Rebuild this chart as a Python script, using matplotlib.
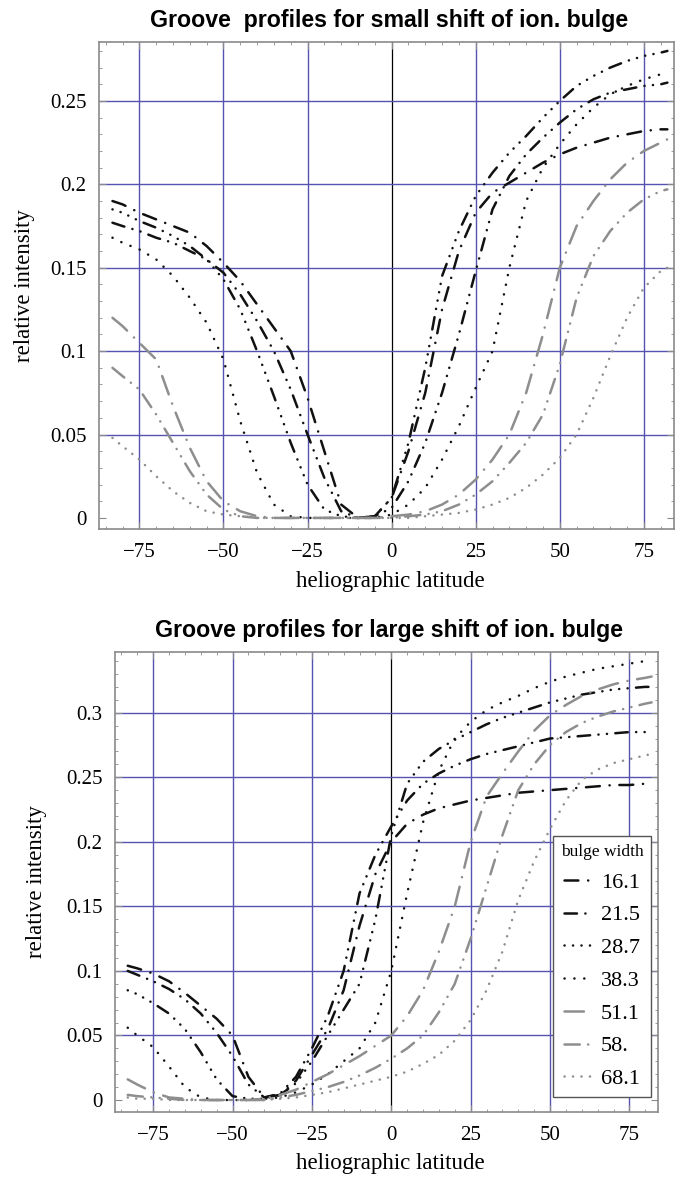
import numpy as np
import matplotlib
matplotlib.use('Agg')
import matplotlib.pyplot as plt
from matplotlib.ticker import MultipleLocator
from matplotlib.lines import Line2D

plt.rcParams['lines.scale_dashes'] = False
plt.rcParams['font.family'] = ['Liberation Serif', 'DejaVu Serif']

# latitudes where the profiles are sampled
lat = [-83, -80, -75, -70, -65, -60, -55, -50, -45, -40, -35, -30, -25, -20, -15, -10, -5,
       0, 5, 10, 15, 20, 25, 30, 35, 40, 45, 50, 55, 60, 65, 70, 75, 80, 82]

widths = ['16.1', '21.5', '28.7', '38.3', '51.1', '58.', '68.1']

# small shift of ion. bulge
small_161 = [.190, .188, .183, .179, .175, .171, .163, .153, .142, .128, .114, .100, .072, .040, .008, .000, .001,
             .012, .040, .075, .125, .160, .183, .195, .201, .207, .213, .218, .222, .225, .228, .230, .232, .233, .233]
small_215 = [.177, .175, .172, .168, .165, .160, .155, .147, .134, .118, .100, .077, .050, .024, .004, .000, .001,
             .006, .022, .045, .075, .110, .148, .185, .205, .218, .228, .237, .245, .251, .255, .257, .259, .260, .261]
small_287 = [.185, .183, .178, .174, .169, .163, .155, .143, .125, .100, .073, .045, .020, .005, .001, .000, .001,
             .012, .045, .090, .145, .172, .193, .207, .219, .229, .240, .250, .259, .265, .270, .274, .277, .279, .280]
small_383 = [.168, .165, .161, .155, .145, .132, .117, .095, .058, .027, .008, .001, .000, .000, .000, .000, .000,
             .002, .008, .018, .035, .055, .078, .100, .150, .190, .210, .224, .236, .246, .254, .259, .263, .266, .267]
small_511 = [.120, .115, .105, .095, .067, .042, .022, .010, .004, .001, .000, .000, .000, .000, .000, .000, .000,
             .001, .002, .004, .008, .014, .023, .035, .050, .075, .110, .150, .175, .190, .203, .213, .220, .225, .227]
small_580 = [.090, .085, .077, .062, .045, .028, .014, .005, .001, .000, .000, .000, .000, .000, .000, .000, .000,
             .000, .001, .002, .004, .008, .014, .022, .033, .045, .062, .092, .132, .157, .172, .183, .191, .196, .197]
small_681 = [.048, .043, .035, .025, .016, .009, .004, .002, .001, .000, .000, .000, .000, .000, .000, .000, .000,
             .000, .000, .001, .002, .003, .005, .008, .012, .018, .026, .036, .050, .072, .097, .120, .138, .148, .150]

# large shift of ion. bulge
large_161 = [.104, .102, .098, .092, .083, .073, .063, .050, .018, .002, .004, .015, .035, .055, .085, .135, .175,
             .200, .214, .221, .226, .229, .232, .234, .236, .238, .239, .240, .241, .242, .243, .244, .244, .245, .245]
large_215 = [.100, .097, .092, .086, .078, .067, .052, .034, .012, .002, .005, .018, .040, .065, .100, .160, .190,
             .212, .232, .245, .253, .259, .264, .268, .271, .274, .277, .280, .281, .282, .283, .284, .285, .285, .285]
large_287 = [.085, .082, .075, .067, .055, .037, .016, .003, .001, .001, .004, .013, .030, .050, .070, .090, .140,
             .205, .245, .262, .272, .279, .285, .291, .296, .300, .304, .308, .311, .314, .316, .318, .319, .320, .320]
large_383 = [.056, .050, .041, .026, .010, .002, .000, .000, .000, .001, .002, .006, .012, .020, .030, .040, .060,
             .100, .160, .215, .255, .280, .293, .302, .308, .313, .319, .324, .328, .331, .334, .336, .338, .340, .340]
large_511 = [.016, .012, .006, .002, .001, .000, .000, .000, .000, .001, .004, .008, .014, .020, .027, .034, .042,
             .050, .065, .085, .115, .150, .200, .235, .253, .270, .286, .298, .306, .313, .318, .322, .325, .327, .328]
large_580 = [.004, .003, .002, .001, .000, .000, .000, .000, .000, .000, .002, .004, .007, .010, .014, .019, .025,
             .032, .040, .050, .068, .090, .125, .165, .205, .240, .260, .275, .285, .292, .297, .301, .304, .307, .308]
large_681 = [.002, .001, .001, .000, .000, .000, .000, .000, .000, .000, .001, .002, .004, .006, .009, .012, .015,
             .018, .022, .028, .035, .046, .062, .085, .115, .155, .185, .210, .232, .248, .256, .261, .264, .267, .268]

small = [small_161, small_215, small_287, small_383, small_511, small_580, small_681]
large = [large_161, large_215, large_287, large_383, large_511, large_580, large_681]

blk = '#111111'
gry = '#8e8e8e'
styles = [
    dict(color=blk, dashes=(10, 7, 0.1, 7)),
    dict(color=blk, dashes=(9, 6, 0.1, 6, 0.1, 6)),
    dict(color=blk, dashes=(0.1, 6, 0.1, 6, 0.1, 6, 0.1, 6, 9, 6)),
    dict(color=blk, dashes=(0.1, 7)),
    dict(color=gry, dashes=(14, 7, 0.1, 7)),
    dict(color=gry, dashes=(11, 6, 0.1, 6, 0.1, 6)),
    dict(color=gry, dashes=(0.1, 6)),
]

grid_c = '#5454b0'
frame_c = '#8a8a8a'


def setup(ax, ymax_tick):
    ax.set_xlim(-87, 84)
    ax.set_xticks([-75, -50, -25, 0, 25, 50, 75])
    ax.set_xticklabels(['\u221275', '\u221250', '\u221225', '0', '25', '50', '75'])
    ax.xaxis.set_minor_locator(MultipleLocator(5))
    ax.yaxis.set_minor_locator(MultipleLocator(0.01))
    for v in [-75, -50, -25, 25, 50, 75]:
        ax.axvline(v, color=grid_c, lw=1.0, zorder=0)
    ax.axvline(0, color='black', lw=0.9, zorder=0)
    for v in np.arange(0.05, ymax_tick + 0.001, 0.05):
        ax.axhline(v, color=grid_c, lw=1.0, zorder=0)
    ax.tick_params(which='both', direction='in', top=True, right=True, color=frame_c,
                   labelsize=15)
    ax.tick_params(which='major', length=5, width=0.8)
    ax.tick_params(which='minor', length=2.5, width=0.6)
    ax.tick_params(axis='x', pad=10)
    ax.tick_params(axis='y', pad=9)
    for s in ax.spines.values():
        s.set_color(frame_c)
        s.set_linewidth(1.2)


fig = plt.figure(figsize=(6.75, 11.78), dpi=100)

ax1 = fig.add_axes([0.1467, 0.551, 0.852, 0.4134])
for ys, st in zip(small, styles):
    ax1.plot(lat, ys, lw=1.8, dash_capstyle='round', **st)
ax1.set_ylim(-0.0066, 0.2854)
ax1.set_yticks([0, 0.05, 0.1, 0.15, 0.2, 0.25])
ax1.set_yticklabels(['0', '0.05', '0.1', '0.15', '0.2', '0.25'])
setup(ax1, 0.25)

ax2 = fig.add_axes([0.1704, 0.056, 0.8044, 0.3905])
for ys, st in zip(large, styles):
    ax2.plot(lat, ys, lw=1.8, dash_capstyle='round', **st)
ax2.set_ylim(-0.0093, 0.347)
ax2.set_yticks([0, 0.05, 0.1, 0.15, 0.2, 0.25, 0.3])
ax2.set_yticklabels(['0', '0.05', '0.1', '0.15', '0.2', '0.25', '0.3'])
setup(ax2, 0.3)

# titles and axis labels
fig.text(0.576, 1 - 20 / 1178, 'Groove  profiles for small shift of ion. bulge', ha='center', va='center',
         fontsize=16.7, fontweight='bold', family='Liberation Sans')
fig.text(0.576, 1 - 630 / 1178, 'Groove profiles for large shift of ion. bulge', ha='center', va='center',
         fontsize=16.7, fontweight='bold', family='Liberation Sans')
fig.text(25 / 675, 1 - 286 / 1178, 'relative intensity', rotation=90, ha='center', va='center', fontsize=16.5)
fig.text(37 / 675, 1 - 882 / 1178, 'relative intensity', rotation=90, ha='center', va='center', fontsize=16.5)
fig.text(390 / 675, 1 - 582 / 1178, 'heliographic latitude', ha='center', va='center', fontsize=16.5)
fig.text(390 / 675, 1 - 1164 / 1178, 'heliographic latitude', ha='center', va='center', fontsize=16.5)

handles = [Line2D([], [], lw=1.8, dash_capstyle='round', **st) for st in styles]
leg = ax2.legend(handles, widths, title='bulge width', loc='upper left',
                 bbox_to_anchor=(553 / 675, 1 - 836 / 1178), bbox_transform=fig.transFigure,
                 borderaxespad=0, fontsize=16, title_fontsize=12.5, handlelength=1.2,
                 handletextpad=0.45, labelspacing=0.55, borderpad=0.35, fancybox=False,
                 framealpha=1, edgecolor='#555555')
leg.get_frame().set_linewidth(1.0)

fig.savefig('out.png', dpi=100)
